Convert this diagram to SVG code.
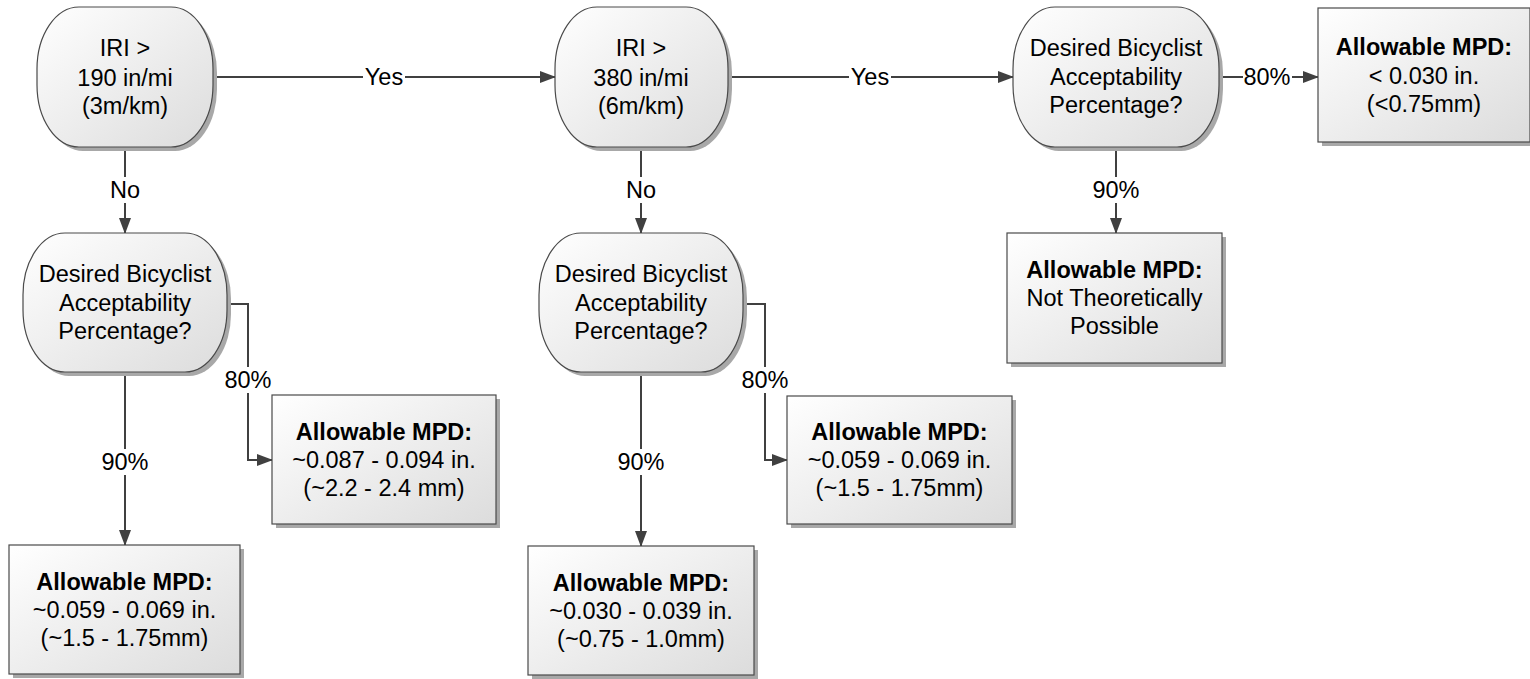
<svg xmlns="http://www.w3.org/2000/svg" width="1530" height="679" viewBox="0 0 1530 679">
<defs>
<linearGradient id="g" x1="0" y1="0" x2="1" y2="1">
<stop offset="0" stop-color="#ffffff"/>
<stop offset="1" stop-color="#dcdcdc"/>
</linearGradient>
<marker id="arr" viewBox="0 0 16 12" refX="15" refY="6" markerWidth="16" markerHeight="12" markerUnits="userSpaceOnUse" orient="auto">
<path d="M0,0 L16,6 L0,12 Z" fill="#404040"/>
</marker>
</defs>
<style>
.sh{fill:#a8a8a8;}
.nd{fill:url(#g);stroke:#4a4a4a;stroke-width:1.2;}
text{font-family:"Liberation Sans",Arial,sans-serif;font-size:23.5px;fill:#000;text-anchor:middle;}
.b{font-weight:bold;}
.c{fill:none;stroke:#404040;stroke-width:2;}
.lb{fill:#fff;}
</style>

<g id="connectors">
<path class="c" d="M213,77 H555" marker-end="url(#arr)"/>
<path class="c" d="M728,77 H1013" marker-end="url(#arr)"/>
<path class="c" d="M1219,77 H1318" marker-end="url(#arr)"/>
<path class="c" d="M125,147 V233" marker-end="url(#arr)"/>
<path class="c" d="M641,147 V233" marker-end="url(#arr)"/>
<path class="c" d="M1116,147 V233" marker-end="url(#arr)"/>
<path class="c" d="M125,372 V545" marker-end="url(#arr)"/>
<path class="c" d="M641,372 V546" marker-end="url(#arr)"/>
<path class="c" d="M227,304 H248 V460 H272" marker-end="url(#arr)"/>
<path class="c" d="M743,304 H765 V460 H787" marker-end="url(#arr)"/>
<rect class="lb" x="363" y="64" width="42" height="26"/>
<text x="384" y="85">Yes</text>
<rect class="lb" x="849" y="64" width="42" height="26"/>
<text x="870" y="85">Yes</text>
<rect class="lb" x="1243" y="64" width="49" height="26"/>
<text x="1267" y="85">80%</text>
<rect class="lb" x="109" y="177" width="32" height="26"/>
<text x="125" y="198">No</text>
<rect class="lb" x="625" y="177" width="32" height="26"/>
<text x="641" y="198">No</text>
<rect class="lb" x="1091" y="177" width="50" height="26"/>
<text x="1116" y="198">90%</text>
<rect class="lb" x="100" y="449" width="50" height="26"/>
<text x="125" y="470">90%</text>
<rect class="lb" x="616" y="449" width="50" height="26"/>
<text x="641" y="470">90%</text>
<rect class="lb" x="223" y="367" width="50" height="26"/>
<text x="248" y="388">80%</text>
<rect class="lb" x="740" y="367" width="50" height="26"/>
<text x="765" y="388">80%</text>
</g>

<g id="n-iri190">
<rect class="sh" x="41" y="11" width="176" height="140" rx="42" ry="62"/>
<rect class="nd" x="37" y="7" width="176" height="140" rx="42" ry="62"/>
<text x="125" y="56">IRI &gt;</text>
<text x="125" y="86">190 in/mi</text>
<text x="125" y="114">(3m/km)</text>
</g>

<g id="n-iri380">
<rect class="sh" x="559" y="11" width="173" height="140" rx="42" ry="62"/>
<rect class="nd" x="555" y="7" width="173" height="140" rx="42" ry="62"/>
<text x="641" y="56">IRI &gt;</text>
<text x="641" y="86">380 in/mi</text>
<text x="641" y="114">(6m/km)</text>
</g>

<g id="n-desired-top">
<rect class="sh" x="1017" y="11" width="206" height="140" rx="42" ry="62"/>
<rect class="nd" x="1013" y="7" width="206" height="140" rx="42" ry="62"/>
<text x="1116" y="56">Desired Bicyclist</text>
<text x="1116" y="85">Acceptability</text>
<text x="1116" y="113">Percentage?</text>
</g>

<g id="n-result-top">
<rect class="sh" x="1322" y="12" width="212" height="134"/>
<rect class="nd" x="1318" y="8" width="212" height="134"/>
<text class="b" x="1424" y="55">Allowable MPD:</text>
<text x="1424" y="84">&lt; 0.030 in.</text>
<text x="1424" y="112">(&lt;0.75mm)</text>
</g>

<g id="n-desired-left">
<rect class="sh" x="27" y="237" width="204" height="139" rx="42" ry="62"/>
<rect class="nd" x="23" y="233" width="204" height="139" rx="42" ry="62"/>
<text x="125" y="282">Desired Bicyclist</text>
<text x="125" y="311">Acceptability</text>
<text x="125" y="339">Percentage?</text>
</g>

<g id="n-desired-mid">
<rect class="sh" x="543" y="237" width="204" height="139" rx="42" ry="62"/>
<rect class="nd" x="539" y="233" width="204" height="139" rx="42" ry="62"/>
<text x="641" y="282">Desired Bicyclist</text>
<text x="641" y="311">Acceptability</text>
<text x="641" y="339">Percentage?</text>
</g>

<g id="n-not-possible">
<rect class="sh" x="1011" y="237" width="215" height="130"/>
<rect class="nd" x="1007" y="233" width="215" height="130"/>
<text class="b" x="1114.5" y="278">Allowable MPD:</text>
<text x="1114.5" y="306">Not Theoretically</text>
<text x="1114.5" y="334">Possible</text>
</g>

<g id="n-left-80">
<rect class="sh" x="276" y="399" width="224" height="129"/>
<rect class="nd" x="272" y="395" width="224" height="129"/>
<text class="b" x="384" y="440">Allowable MPD:</text>
<text x="384" y="468">~0.087 - 0.094 in.</text>
<text x="384" y="496">(~2.2 - 2.4 mm)</text>
</g>

<g id="n-left-90">
<rect class="sh" x="13" y="549" width="231" height="129"/>
<rect class="nd" x="9" y="545" width="231" height="129"/>
<text class="b" x="124.5" y="590">Allowable MPD:</text>
<text x="124.5" y="618">~0.059 - 0.069 in.</text>
<text x="124.5" y="646">(~1.5 - 1.75mm)</text>
</g>

<g id="n-mid-80">
<rect class="sh" x="791" y="400" width="225" height="128"/>
<rect class="nd" x="787" y="396" width="225" height="128"/>
<text class="b" x="899.5" y="440">Allowable MPD:</text>
<text x="899.5" y="468">~0.059 - 0.069 in.</text>
<text x="899.5" y="496">(~1.5 - 1.75mm)</text>
</g>

<g id="n-mid-90">
<rect class="sh" x="532" y="550" width="226" height="129"/>
<rect class="nd" x="528" y="546" width="226" height="129"/>
<text class="b" x="641" y="591">Allowable MPD:</text>
<text x="641" y="619">~0.030 - 0.039 in.</text>
<text x="641" y="647">(~0.75 - 1.0mm)</text>
</g>
</svg>
